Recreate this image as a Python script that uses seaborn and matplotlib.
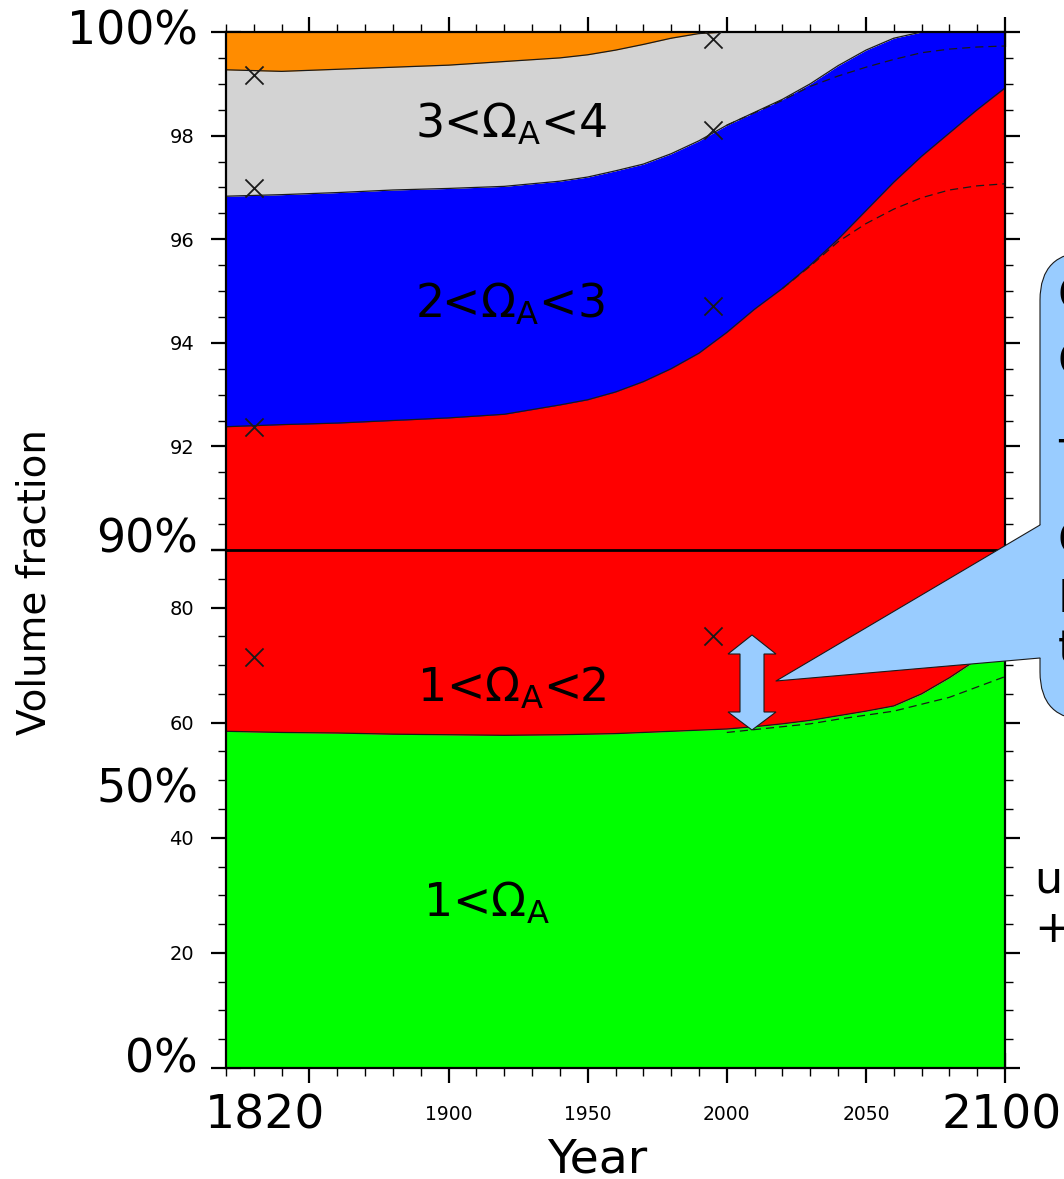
import matplotlib.pyplot as plt
import matplotlib.transforms as mtransforms
from matplotlib.patches import FancyBboxPatch, Polygon
from matplotlib.lines import Line2D
from matplotlib.ticker import MultipleLocator
import seaborn as sns

# cumulative volume fraction (%) at the top of each saturation class
years = [1820, 1840, 1860, 1880, 1900, 1920, 1940, 1950, 1960, 1970, 1980, 1990,
         2000, 2010, 2020, 2030, 2040, 2050, 2060, 2070, 2080, 2090, 2100]
top_gt1 = [58.5, 58.3, 58.2, 58.0, 57.9, 57.8, 57.9, 58.0, 58.1, 58.3, 58.5, 58.7,
           58.9, 59.3, 59.8, 60.4, 61.2, 62.0, 62.9, 65.0, 67.8, 71.0, 73.5]
top_1_2 = [92.38, 92.42, 92.45, 92.50, 92.55, 92.62, 92.80, 92.90, 93.05, 93.25, 93.50, 93.80,
           94.20, 94.65, 95.05, 95.50, 96.00, 96.55, 97.10, 97.60, 98.05, 98.50, 98.92]
top_2_3 = [96.83, 96.86, 96.90, 96.95, 96.98, 97.02, 97.12, 97.20, 97.32, 97.45, 97.65, 97.90,
           98.20, 98.45, 98.70, 99.00, 99.35, 99.65, 99.88, 100, 100, 100, 100]
top_3_4 = [99.27, 99.24, 99.28, 99.32, 99.36, 99.43, 99.50, 99.56, 99.65, 99.76, 99.88, 99.97,
           100, 100, 100, 100, 100, 100, 100, 100, 100, 100, 100]
top_all = [100] * len(years)

# alternative scenario (dashed)
alt_years_gt1 = [2000, 2010, 2020, 2030, 2040, 2050, 2060, 2070, 2080, 2090, 2100]
alt_gt1 = [58.3, 58.8, 59.3, 59.8, 60.6, 61.3, 62.0, 63.2, 64.4, 66.2, 68.0]
alt_years_1_2 = [2020, 2030, 2040, 2050, 2060, 2070, 2080, 2090, 2100]
alt_1_2 = [95.05, 95.48, 95.95, 96.30, 96.58, 96.80, 96.95, 97.03, 97.07]
alt_years_2_3 = [2000, 2010, 2020, 2030, 2040, 2050, 2060, 2070, 2080, 2090, 2100]
alt_2_3 = [98.20, 98.44, 98.68, 98.95, 99.15, 99.32, 99.47, 99.60, 99.67, 99.71, 99.73]

# observation-based estimates (x marks)
cross_years_hi = [1830, 1830, 1830, 1995, 1995, 1995]
cross_hi = [99.17, 96.99, 92.37, 99.87, 98.11, 94.71]
cross_years_lo = [1830, 1995]
cross_lo = [71.4, 75.1]

class_colors = ['#00ff00', '#ff0000', '#0000ff', '#d3d3d3', '#ff8c00']

sns.set_theme(style='ticks', rc={'axes.edgecolor': 'black', 'xtick.color': 'black',
                                 'ytick.color': 'black', 'text.color': 'black'})
plt.rcParams['font.family'] = ['DejaVu Sans']

W, H, DPI = 1064, 1179, 100
fig = plt.figure(figsize=(W / DPI, H / DPI), dpi=DPI)
pix = mtransforms.Affine2D().scale(1 / DPI, -1 / DPI).translate(0, H / DPI) + fig.dpi_scale_trans

ax_hi = fig.add_axes([226 / W, 1 - 550 / H, 779 / W, 518 / H])
ax_lo = fig.add_axes([226 / W, 1 - 1068 / H, 779 / W, 518 / H])
ax_hi.set_zorder(2)

bounds = [[0] * len(years), top_gt1, top_1_2, top_2_3, top_3_4, top_all]
for ax in (ax_hi, ax_lo):
    for i, c in enumerate(class_colors):
        ax.fill_between(years, bounds[i], bounds[i + 1], color=c, lw=0)
    for b in bounds[1:5]:
        sns.lineplot(x=years, y=b, ax=ax, color='k', lw=0.9)
    for xs, ys in [(alt_years_gt1, alt_gt1), (alt_years_1_2, alt_1_2), (alt_years_2_3, alt_2_3)]:
        sns.lineplot(x=xs, y=ys, ax=ax, color='k', lw=0.9, linestyle=(0, (6.5, 4)))
    ax.set_xlim(1820, 2100)
    ax.set_xlabel('')
    ax.set_ylabel('')
    for s in ax.spines.values():
        s.set_linewidth(1.6)
    ax.xaxis.set_minor_locator(MultipleLocator(10))
    ax.tick_params(which='major', direction='inout', length=22, width=1.6,
                   left=True, right=True, labelsize=14, pad=12)
    ax.tick_params(which='minor', direction='inout', length=11, width=1.0,
                   left=True, right=True)

sns.scatterplot(x=cross_years_hi, y=cross_hi, ax=ax_hi, marker='x', color='k', s=170, linewidth=1.3, zorder=4)
sns.scatterplot(x=cross_years_lo, y=cross_lo, ax=ax_lo, marker='x', color='k', s=170, linewidth=1.3, zorder=4)

ax_hi.set_ylim(90, 100)
ax_hi.set_yticks([90, 92, 94, 96, 98, 100], ['', '92', '94', '96', '98', ''])
ax_hi.yaxis.set_minor_locator(MultipleLocator(0.5))
ax_hi.set_xticks([1850, 1900, 1950, 2000, 2050, 2100])
ax_hi.tick_params(axis='x', which='both', top=True, bottom=False, labelbottom=False)
ax_hi.spines['bottom'].set_linewidth(2.0)

ax_lo.set_ylim(0, 90)
ax_lo.set_yticks([0, 20, 40, 60, 80, 90], ['', '20', '40', '60', '80', ''])
ax_lo.yaxis.set_minor_locator(MultipleLocator(5))
ax_lo.set_xticks([1850, 1900, 1950, 2000, 2050, 2100], ['', '1900', '1950', '2000', '2050', ''])
ax_lo.tick_params(axis='x', which='both', top=False, bottom=True, pad=16, labelsize=13.5)
ax_lo.spines['top'].set_visible(False)

# big percentage labels
for ax, val, dy in [(ax_hi, 100, 0), (ax_lo, 90, 10), (ax_lo, 50, -10), (ax_lo, 0, 8)]:
    ax.annotate(f'{val}%', xy=(0, val), xycoords=ax.get_yaxis_transform(),
                xytext=(-28, dy), textcoords='offset pixels', ha='right', va='center',
                fontsize=33, annotation_clip=False)

# class labels
ax_hi.text(1888, 97.97, '3<Ω$_{\\mathrm{A}}$<4', fontsize=33, va='baseline')
ax_hi.text(1888, 94.48, '2<Ω$_{\\mathrm{A}}$<3', fontsize=33, va='baseline')
ax_lo.text(1888.7, 63.6, '1<Ω$_{\\mathrm{A}}$<2', fontsize=33, va='baseline')
ax_lo.text(1890.8, 26.4, '1<Ω$_{\\mathrm{A}}$', fontsize=33, va='baseline')

# axis titles and end years
fig.text(35, 582, 'Volume fraction', transform=pix, rotation=90, ha='center', va='center', fontsize=28)
fig.text(597, 1160, 'Year', transform=pix, ha='center', va='center', fontsize=34)
fig.text(265, 1116, '1820', transform=pix, ha='center', va='center', fontsize=34)
fig.text(1002, 1116, '2100', transform=pix, ha='center', va='center', fontsize=34)

# callout box (cut off at the right edge)
blue_fill = '#99ccff'
fig.add_artist(FancyBboxPatch((1040, 252), 140, 468, boxstyle='round,pad=0,rounding_size=48',
                              transform=pix, fc=blue_fill, ec='k', lw=0.8, zorder=5))
fig.add_artist(Polygon([(776, 681), (1040, 525), (1048, 525), (1048, 658), (1040, 658)],
                       closed=True, transform=pix, fc=blue_fill, ec='none', zorder=6))
fig.add_artist(Line2D([1040, 776, 1040], [525, 681, 658], transform=pix, color='k', lw=0.8, zorder=7))
for ch, y in [('C', 297), ('C', 363), ('T', 459), ('C', 542), ('F', 600), ('t', 650)]:
    fig.text(1058, y, ch, transform=pix, ha='left', va='center', fontsize=32, zorder=8)
for ch, y in [('u', 880), ('+', 930)]:
    fig.text(1034, y, ch, transform=pix, ha='left', va='center', fontsize=32, zorder=8)

# double-headed arrow marking the spread
cx = 752
fig.add_artist(Polygon([(cx, 635), (cx - 24, 654), (cx - 12, 654), (cx - 12, 712), (cx - 24, 712),
                        (cx, 730), (cx + 24, 712), (cx + 12, 712), (cx + 12, 654), (cx + 24, 654)],
                       closed=True, transform=pix, fc=blue_fill, ec='k', lw=0.8, zorder=6))

fig.savefig('out.png', dpi=DPI)
